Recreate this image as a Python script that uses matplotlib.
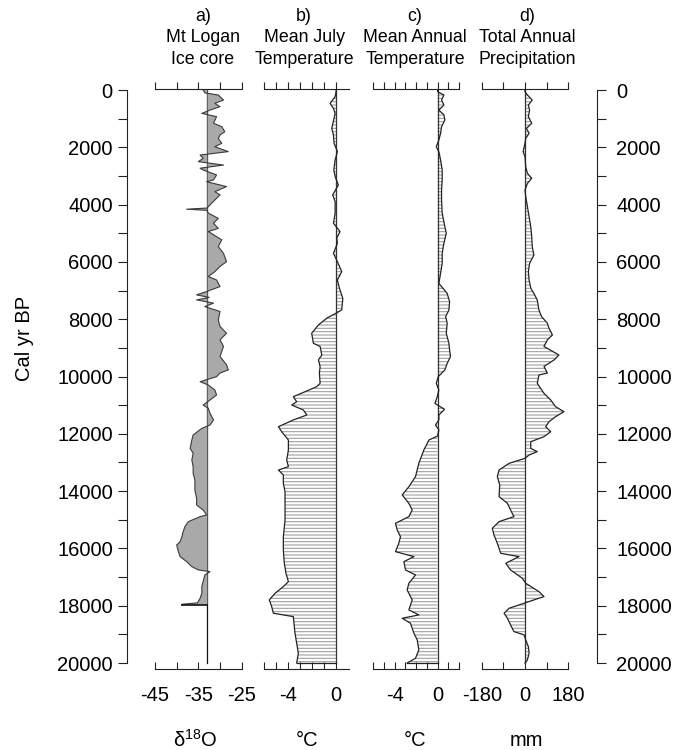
import numpy as np
import matplotlib
matplotlib.use("Agg")
import matplotlib.pyplot as plt
from matplotlib.ticker import FixedLocator, NullFormatter

plt.rcParams['font.family'] = ['Liberation Sans', 'DejaVu Sans']
plt.rcParams['mathtext.default'] = 'regular'
plt.rcParams['hatch.linewidth'] = 0.8
plt.rcParams['hatch.color'] = '#a0a0a0'

# ---------------- data ----------------
ICE_AGE = [0, 100, 175, 350, 465, 580, 700, 815, 930, 1160, 1280, 1455, 1570, 1690, 1860,
           1980, 2150, 2270, 2385, 2500, 2620, 2730, 2790, 2965, 3140, 3200, 3370, 3550,
           3660, 3840, 4010, 4120, 4160, 4200, 4300, 4480, 4650, 4830, 4940, 5230, 5465,
           5700, 5990, 6160, 6340, 6510, 6630, 6860, 7035, 7150, 7240, 7325, 7440, 7560,
           7730, 8025, 8255, 8490, 8720, 8950, 9300, 9590, 9770, 9880, 10006, 10180,
           10297, 10470, 10645, 10820, 10995, 11110, 11285, 11518, 11693, 11810, 12042,
           12216, 12507, 12681, 12914, 13147, 13380, 13612, 13960, 14251, 14484, 14659,
           14833, 14891, 15066, 15240, 15415, 15589, 15764, 15880, 16113, 16287, 16462,
           16636, 16752, 16810, 16927, 17159, 17333, 17566, 17740, 17900, 17950, 17980]
ICE_D18O = [-33.9, -33.5, -30.4, -29.2, -31.2, -30.0, -32.3, -34.2, -30.8, -31.5, -29.6,
            -28.9, -30.0, -30.4, -29.6, -31.2, -28.1, -34.6, -33.9, -35.0, -29.2, -34.6,
            -33.9, -30.8, -31.5, -33.1, -28.5, -31.2, -30.0, -31.2, -32.3, -33.0, -37.7,
            -33.0, -32.7, -30.4, -31.5, -30.4, -32.7, -29.6, -30.4, -29.2, -28.5, -30.0,
            -31.2, -32.7, -30.8, -30.0, -33.1, -35.4, -32.5, -35.4, -31.5, -33.5, -30.0,
            -30.4, -30.0, -28.5, -30.0, -29.2, -30.0, -28.5, -28.1, -30.0, -30.8, -34.6,
            -32.7, -31.2, -30.8, -32.3, -33.9, -32.7, -32.3, -31.5, -32.3, -34.2, -36.2,
            -36.5, -36.9, -36.2, -36.5, -36.2, -36.2, -35.8, -35.8, -35.4, -35.4, -33.9,
            -33.1, -34.6, -37.3, -38.1, -38.5, -38.8, -39.2, -40.0, -39.6, -39.2, -37.7,
            -36.5, -35.0, -32.3, -33.5, -33.9, -34.2, -34.2, -34.6, -35.2, -38.8, -38.8]
ICE_BASE = -32.9

JULY_AGE = [0, 58, 233, 465, 640, 815, 990, 1338, 1570, 1860, 2150, 2440, 2790, 3023, 3314,
            3660, 3895, 4300, 4650, 4940, 5170, 5350, 5700, 5990, 6340, 6630, 6920, 7270,
            7675, 7790, 7965, 8200, 8490, 8840, 8950, 9250, 9420, 9650, 9880, 10238, 10355,
            10530, 10704, 10879, 10995, 11170, 11344, 11518, 11751, 11925, 12216, 12565,
            12914, 13147, 13263, 13438, 13729, 14019, 14426, 15008, 15589, 16055, 16520,
            16869, 17159, 17333, 17566, 17798, 18031, 18263, 18380, 18961, 19310, 19659, 20000]
JULY_T = [0, 0, -0.08, -0.5, -0.22, -0.08, -0.17, -0.36, -0.22, -0.17, 0.11, -0.08, -0.19,
          -0.08, 0.19, -0.28, -0.08, -0.08, -0.22, 0.33, 0.06, 0.11, -0.22, 0.11, 0.47, 0.11,
          0.28, 0.56, 0.47, 0, -0.78, -1.47, -2.03, -1.89, -1.33, -1.19, -1.47, -1.33, -1.39,
          -1.33, -1.61, -2.58, -3.56, -3.28, -3.69, -2.72, -2.44, -3.56, -4.8, -4.53, -3.97,
          -3.97, -4.11, -3.97, -4.8, -4.39, -4.39, -4.25, -4.25, -4.25, -4.39, -4.39, -4.31,
          -4.17, -3.97, -4.39, -5.08, -5.56, -5.36, -5.22, -3.56, -3.42, -3.28, -3.14, -3.28]

ANN_AGE = [0, 58, 175, 350, 525, 700, 870, 1050, 1280, 1510, 1745, 1980, 2150, 2440, 2790,
           3140, 3490, 3840, 4300, 4770, 5000, 5350, 5700, 6050, 6400, 6750, 7100, 7390,
           7680, 7910, 8140, 8490, 8840, 9070, 9300, 9540, 9770, 10006, 10238, 10470, 10704,
           10937, 11146, 11344, 11518, 11693, 11867, 12077, 12216, 12565, 13030, 13496,
           13845, 14135, 14426, 14659, 14891, 15124, 15357, 15589, 15822, 16113, 16287,
           16462, 16752, 16927, 17217, 17450, 17798, 18147, 18321, 18438, 18612, 18961,
           19194, 19543, 19834, 20000]
ANN_T = [0, 0, 0.59, 0.37, 0.59, 0.12, 0.59, 0.68, 0.37, 0.28, 0.12, -0.12, 0.12, 0.28, 0.43,
         0.43, 0.37, 0.37, 0.43, 0.68, 0.81, 0.59, 0.43, 0.43, 0.28, 0.12, 0.90, 1.12, 1.06,
         0.75, 0.90, 0.81, 1.06, 1.12, 1.21, 0.90, 0.68, 0.06, -0.12, 0.12, -0.03, -0.25,
         0.65, 0.12, 0.12, -0.19, 0.12, 0, -0.81, -1.28, -1.75, -2.06, -2.68, -3.30, -2.68,
         -2.37, -2.68, -3.93, -3.77, -3.46, -3.62, -3.93, -2.21, -3.15, -2.99, -2.06, -2.68,
         -2.84, -2.37, -2.68, -1.75, -3.30, -2.53, -2.21, -1.90, -1.75, -2.06, -2.84]

PREC_AGE = [0, 58, 175, 350, 525, 700, 930, 1160, 1340, 1510, 1690, 1860, 2150, 2330, 2680,
            2910, 3080, 3260, 3490, 3720, 4070, 4420, 4770, 5120, 5465, 5760, 6050, 6340,
            6630, 6920, 7100, 7330, 7680, 7910, 8140, 8320, 8550, 8720, 8950, 9250, 9420,
            9650, 9880, 9947, 10238, 10587, 10820, 11053, 11228, 11402, 11577, 11751, 11926,
            12100, 12275, 12507, 12623, 12740, 12856, 13030, 13263, 13496, 13787, 14193,
            14426, 14659, 14891, 15066, 15298, 15531, 15822, 16171, 16287, 16520, 16752,
            17043, 17217, 17508, 17682, 17798, 17914, 18089, 18263, 18438, 18670, 18903,
            19019, 19194, 19427, 19659, 19892, 20000]
PREC_MM = [0, 0, 10, 30, 14, 19, 14, 28, 6, 17, 3, 0, -8, 0, 3, 10, 28, 10, 0, 3, 10, 17, 24,
           28, 30, 37, 19, 14, 17, 24, 37, 51, 58, 69, 93, 100, 114, 93, 79, 141, 121, 79, 93,
           58, 51, 79, 107, 127, 162, 127, 100, 86, 107, 79, 24, 24, 51, 17, 0, -66, -108,
           -115, -105, -108, -73, -60, -46, -108, -136, -129, -115, -101, -25, -80, -60, -11,
           3, 58, 79, 37, -4, -66, -87, -73, -60, -46, -4, 3, 14, 17, 10, 0]

TITLES = [["a)", "Mt Logan", "Ice core"],
          ["b)", "Mean July", "Temperature"],
          ["c)", "Mean Annual", "Temperature"],
          ["d)", "Total Annual", "Precipitation"]]
UNITS = ["δ$^{18}$O", "°C", "°C", "mm"]
YLABEL = "Cal yr BP"

# ---------------- layout ----------------
W, H = 685, 750
fig = plt.figure(figsize=(W / 100, H / 100), dpi=100)

def fx(px):
    return px / W

def fy(py):
    return 1 - py / H

AX_TOP, AX_BOT = 89, 669
YLIM = (20209, -35)
ax_b = fy(AX_BOT)
ax_h = fy(AX_TOP) - fy(AX_BOT)
SP = '#222222'
TICK_FS = 14.5

# left and right age axes
for side in ['left', 'right']:
    axy = fig.add_axes([fx(126.7), ax_b, fx(596.7) - fx(126.7), ax_h])
    axy.set_facecolor('none')
    axy.set_ylim(*YLIM)
    axy.set_xticks([])
    for s in ['top', 'bottom', 'left', 'right']:
        axy.spines[s].set_visible(s == side)
    axy.spines[side].set_bounds(0, 20000)
    axy.spines[side].set_color(SP)
    axy.spines[side].set_linewidth(0.8)
    axy.yaxis.set_ticks_position(side)
    axy.yaxis.set_major_locator(FixedLocator(np.arange(0, 20001, 2000)))
    axy.yaxis.set_minor_locator(FixedLocator(np.arange(1000, 20000, 2000)))
    axy.yaxis.set_minor_formatter(NullFormatter())
    axy.set_yticklabels([str(v) for v in range(0, 20001, 2000)])
    axy.tick_params(axis='y', which='both', direction='out', length=6.5, width=0.8,
                    color=SP, labelsize=TICK_FS, pad=3.5 if side == 'left' else 7.5)
    axy.set_zorder(0)

panels = [
    dict(x0=155, x1=241.7, xlim=(-45, -25), major=[-45, -35, -25], minor=[-40, -30]),
    dict(x0=264, x1=349.3, xlim=(-6, 1.1), major=[-4, 0], minor=[-6, -5, -3, -2, -1]),
    dict(x0=373.3, x1=459, xlim=(-6, 2), major=[-4, 0], minor=[-6, -5, -3, -2, -1, 1, 2]),
    dict(x0=481.7, x1=568.3, xlim=(-180, 180), major=[-180, 0, 180], minor=[-90, 90]),
]

axes = []
for i, p in enumerate(panels):
    ax = fig.add_axes([fx(p['x0']), ax_b, fx(p['x1']) - fx(p['x0']), ax_h])
    ax.set_facecolor('none')
    ax.set_zorder(1)
    ax.set_xlim(*p['xlim'])
    ax.set_ylim(*YLIM)
    for s in ['left', 'right', 'top']:
        ax.spines[s].set_visible(False)
    ax.spines['bottom'].set_color(SP)
    ax.spines['bottom'].set_linewidth(0.8)
    ax.set_yticks([])
    ax.xaxis.set_major_locator(FixedLocator(p['major']))
    ax.xaxis.set_minor_locator(FixedLocator(p['minor']))
    ax.xaxis.set_minor_formatter(NullFormatter())
    ax.set_xticklabels([str(v) for v in p['major']])
    ax.tick_params(axis='x', which='both', direction='in', length=5, width=0.8,
                   color=SP, labelsize=TICK_FS, pad=12.5)
    top = ax.secondary_xaxis('top')
    top.xaxis.set_major_locator(FixedLocator(p['major'] + p['minor']))
    top.tick_params(axis='x', which='both', direction='out', length=5, width=0.8,
                    color=SP, labeltop=False)
    top.spines['top'].set_color(SP)
    top.spines['top'].set_linewidth(0.8)
    axes.append(ax)

# panel a: ice core, grey fill
ax = axes[0]
ax.plot([ICE_BASE, ICE_BASE], [0, 20000], color='#111111', lw=0.9, zorder=1)
ax.fill_betweenx(ICE_AGE, ICE_BASE, ICE_D18O, facecolor='#a9a9a9', edgecolor='none', zorder=2)
ax.plot(ICE_D18O, ICE_AGE, color='#3a3a3a', lw=0.8, zorder=3)
ax.plot([ICE_BASE, ICE_D18O[-1]], [ICE_AGE[-1], ICE_AGE[-1]], color='#111111', lw=1.2, zorder=3)

# panels b-d: horizontal-line fill
for ax, ages, vals in [(axes[1], JULY_AGE, JULY_T), (axes[2], ANN_AGE, ANN_T),
                       (axes[3], PREC_AGE, PREC_MM)]:
    ax.fill_betweenx(ages, 0, vals, facecolor='none', edgecolor='#a0a0a0',
                     hatch='-----', linewidth=0, zorder=1)
    ax.plot([0, 0], [0, 20000], color='#333333', lw=0.9, zorder=2)
    ax.plot(vals, ages, color='#222222', lw=0.9, zorder=3)
    ax.plot([0, vals[-1]], [ages[-1], ages[-1]], color='#222222', lw=0.9, zorder=3)

# titles
title_x = [203, 304, 415, 527]
title_y = [16.7, 38, 60]
for tx, lines in zip(title_x, TITLES):
    for ty, t in zip(title_y, lines):
        fig.text(fx(tx), fy(ty), t, ha='center', va='center', fontsize=12.8)

unit_x = [195, 306.7, 415, 526.7]
for ux, u in zip(unit_x, UNITS):
    fig.text(fx(ux), fy(740), u, ha='center', va='center', fontsize=14.5)

fig.text(fx(24), fy(338), YLABEL, rotation=90, ha='center', va='center', fontsize=14.5)

fig.savefig('out.png', dpi=100)
